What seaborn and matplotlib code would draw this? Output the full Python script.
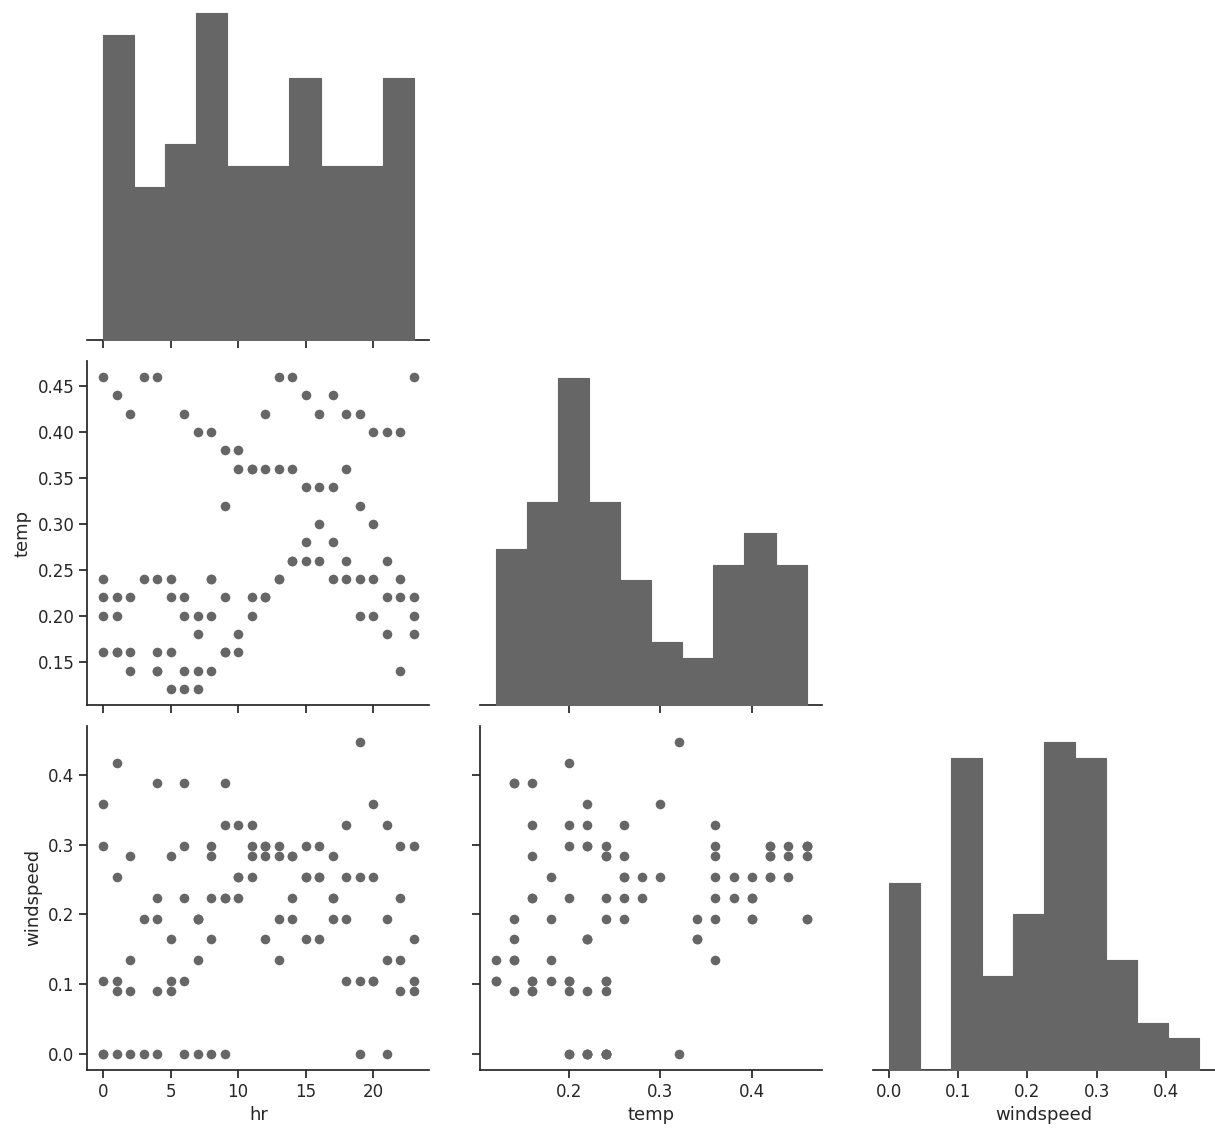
import pandas as pd
import matplotlib
matplotlib.use("Agg")
import matplotlib.pyplot as plt
import seaborn as sns

# first 101 hourly records of the bike sharing data (5 days, a few hours missing)
hr = [
    0, 1, 2, 3, 4, 5, 6, 7, 8, 9, 10, 11, 12, 13, 14, 15, 16, 17, 18, 19, 20, 21, 22, 23,   # day 1
    0, 1, 2, 3, 4, 6, 7, 8, 9, 10, 11, 12, 13, 14, 15, 16, 17, 18, 19, 20, 21, 22, 23,      # day 2
    0, 1, 4, 5, 6, 7, 8, 9, 10, 11, 12, 13, 14, 15, 16, 17, 18, 19, 20, 21, 22, 23,         # day 3
    0, 1, 2, 4, 5, 6, 7, 8, 9, 10, 11, 12, 13, 14, 15, 16, 17, 18, 19, 20, 21, 22, 23,      # day 4
    0, 1, 2, 4, 5, 6, 7, 8, 9,                                                              # day 5
]
temp = [
    0.24, 0.22, 0.22, 0.24, 0.24, 0.24, 0.22, 0.20, 0.24, 0.32, 0.38, 0.36,
    0.42, 0.46, 0.46, 0.44, 0.42, 0.44, 0.42, 0.42, 0.40, 0.40, 0.40, 0.46,
    0.46, 0.44, 0.42, 0.46, 0.46, 0.42, 0.40, 0.40, 0.38, 0.36, 0.36, 0.36,
    0.36, 0.36, 0.34, 0.34, 0.34, 0.36, 0.32, 0.30, 0.26, 0.24, 0.22,
    0.22, 0.20, 0.14, 0.22, 0.20, 0.18, 0.20, 0.22, 0.18, 0.22, 0.22,
    0.24, 0.26, 0.28, 0.30, 0.28, 0.26, 0.24, 0.24, 0.22, 0.22, 0.20,
    0.20, 0.16, 0.14, 0.14, 0.16, 0.14, 0.14, 0.14, 0.16, 0.16, 0.20, 0.22,
    0.24, 0.26, 0.26, 0.26, 0.24, 0.24, 0.20, 0.20, 0.18, 0.14, 0.18,
    0.16, 0.16, 0.16, 0.16, 0.12, 0.12, 0.12, 0.24, 0.16,
]
windspeed = [
    0, 0, 0, 0, 0, 0.0896, 0, 0, 0, 0, 0.2537, 0.2836,
    0.2836, 0.2985, 0.2836, 0.2985, 0.2985, 0.2836, 0.2537, 0.2537, 0.2537, 0.194, 0.2239, 0.2985,
    0.2985, 0.2537, 0.2836, 0.194, 0.194, 0.2985, 0.194, 0.2239, 0.2239, 0.2239, 0.2537, 0.2985,
    0.1343, 0.194, 0.1642, 0.1642, 0.194, 0.3284, 0.4478, 0.3582, 0.3284, 0.2985, 0.1642,
    0.3582, 0.4179, 0.3881, 0.1642, 0.2239, 0.194, 0.2985, 0.3284, 0.2537, 0.2985, 0.1642,
    0.2836, 0.2239, 0.2537, 0.2537, 0.2239, 0.194, 0, 0.1045, 0, 0.0896, 0.0896,
    0, 0.1045, 0.1343, 0.0896, 0.2836, 0.3881, 0.194, 0.1642, 0.3881, 0.3284, 0.3284, 0.2985,
    0.194, 0.2836, 0.2537, 0.2537, 0.2239, 0.1045, 0.1045, 0.1045, 0.1343, 0.1343, 0.1045,
    0.1045, 0.0896, 0.0896, 0.2239, 0.1045, 0.1045, 0.1343, 0.2836, 0.2239,
]

df = pd.DataFrame({"hr": hr, "temp": temp, "windspeed": windspeed})

sns.set_theme(style="ticks", context="notebook", font_scale=1.1)
plt.rcParams["font.family"] = ["DejaVu Sans"]
plt.rcParams["axes.labelsize"] = 13
plt.rcParams["xtick.labelsize"] = 12
plt.rcParams["ytick.labelsize"] = 12

grey = "#666666"
g = sns.pairplot(
    df,
    corner=True,
    diag_kind="hist",
    diag_kws=dict(bins=10, element="step", color=grey, alpha=1, linewidth=0.8),
    plot_kws=dict(color=grey, s=48, linewidth=0),
    grid_kws=dict(diag_sharey=False),
)

g.figure.set_size_inches(12.15, 11.39)
g.figure.subplots_adjust(left=0.072, right=1.0, bottom=0.061, top=1.003,
                         wspace=0.149, hspace=0.062)

g.figure.savefig("out.png", dpi=100)
